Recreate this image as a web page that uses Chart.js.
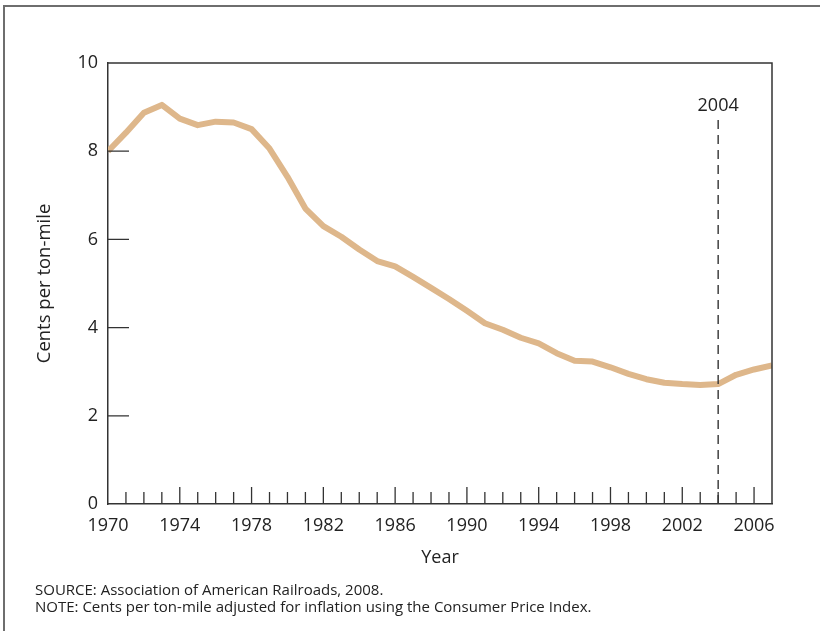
<!DOCTYPE html>
<html>
<head>
<meta charset="utf-8">
<script src="https://cdn.jsdelivr.net/npm/chart.js@4.4.1/dist/chart.umd.min.js"></script>
<style>
  html, body { margin: 0; padding: 0; background: #fff; }
  #wrap { width: 820px; height: 631px; position: relative; }
</style>
</head>
<body>
<div id="wrap"><canvas id="rateChart" width="820" height="631"></canvas></div>
<script>
// Rail revenue, cents per ton-mile (inflation adjusted)
const years = [1970, 1971, 1972, 1973, 1974, 1975, 1976, 1977, 1978, 1979,
  1980, 1981, 1982, 1983, 1984, 1985, 1986, 1987, 1988, 1989,
  1990, 1991, 1992, 1993, 1994, 1995, 1996, 1997, 1998, 1999,
  2000, 2001, 2002, 2003, 2004, 2005, 2006, 2007];
const centsPerTonMile = [8.0, 8.42, 8.87, 9.05, 8.74, 8.59, 8.67, 8.65, 8.5, 8.06,
  7.42, 6.7, 6.3, 6.06, 5.77, 5.51, 5.39, 5.15, 4.9, 4.65,
  4.38, 4.1, 3.95, 3.77, 3.64, 3.42, 3.25, 3.23, 3.1, 2.95,
  2.83, 2.75, 2.72, 2.7, 2.72, 2.93, 3.05, 3.14];
const labelledYears = [1970, 1974, 1978, 1982, 1986, 1990, 1994, 1998, 2002, 2006];
const yTicks = [0, 2, 4, 6, 8, 10];
const markerYear = 2004;
const notes = [
  'SOURCE: Association of American Railroads, 2008.',
  'NOTE: Cents per ton-mile adjusted for inflation using the Consumer Price Index.'
];

const FONT = '"Open Sans", "Noto Sans", sans-serif';
const AXIS = '#333';

// frame, box, inside tick marks, 2004 marker and the notes
const extras = {
  id: 'extras',
  afterDraw(chart) {
    const ctx = chart.ctx;
    const a = chart.chartArea;
    const xs = chart.scales.x;
    const ys = chart.scales.y;
    ctx.save();

    // outer frame (runs off the right and bottom edge)
    ctx.strokeStyle = '#6e6e6e';
    ctx.lineWidth = 2;
    ctx.beginPath();
    ctx.moveTo(4, 631);
    ctx.lineTo(4, 6);
    ctx.lineTo(820, 6);
    ctx.stroke();

    // top and right side of plot box
    ctx.strokeStyle = AXIS;
    ctx.lineWidth = 1.5;
    ctx.beginPath();
    ctx.moveTo(a.left, a.top);
    ctx.lineTo(a.right, a.top);
    ctx.lineTo(a.right, a.bottom);
    ctx.stroke();

    // year ticks pointing up
    ctx.lineWidth = 1.3;
    ctx.beginPath();
    years.forEach(yr => {
      if (yr === years[0] || yr === years[years.length - 1]) return;
      const x = xs.getPixelForValue(yr);
      const len = labelledYears.includes(yr) ? 17 : 12;
      ctx.moveTo(x, a.bottom);
      ctx.lineTo(x, a.bottom - len);
    });
    // value ticks pointing right
    yTicks.forEach(v => {
      if (v === 0 || v === 10) return;
      const y = ys.getPixelForValue(v);
      ctx.moveTo(a.left, y);
      ctx.lineTo(a.left + 21, y);
    });
    ctx.stroke();

    // 2004 marker
    const mx = xs.getPixelForValue(markerYear);
    ctx.setLineDash([9, 6]);
    ctx.lineWidth = 1.4;
    ctx.beginPath();
    ctx.moveTo(mx, 120);
    ctx.lineTo(mx, a.bottom);
    ctx.stroke();
    ctx.setLineDash([]);
    ctx.fillStyle = '#222';
    ctx.font = '18px ' + FONT;
    ctx.textAlign = 'center';
    ctx.textBaseline = 'alphabetic';
    ctx.fillText(String(markerYear), mx, 111);

    // notes
    ctx.font = '15px ' + FONT;
    ctx.textAlign = 'left';
    notes.forEach((t, i) => ctx.fillText(t, 35, 595 + i * 17));
    ctx.restore();
  }
};

new Chart(document.getElementById('rateChart'), {
  type: 'line',
  data: {
    datasets: [{
      data: years.map((yr, i) => ({ x: yr, y: centsPerTonMile[i] })),
      borderColor: '#deb78b',
      borderWidth: 6,
      pointRadius: 0,
      tension: 0,
      borderJoinStyle: 'round'
    }]
  },
  options: {
    responsive: false,
    animation: false,
    layout: { padding: { left: 30, top: 63, right: 48, bottom: 58 } },
    plugins: { legend: { display: false }, tooltip: { enabled: false } },
    scales: {
      x: {
        type: 'linear',
        min: 1970,
        max: 2007,
        afterFit: s => { s.height = 69; },
        afterBuildTicks: s => { s.ticks = years.map(v => ({ value: v })); },
        grid: { display: false, drawTicks: false },
        border: { display: true, color: AXIS, width: 1.5 },
        ticks: {
          autoSkip: false,
          maxRotation: 0,
          padding: 11,
          color: '#222',
          font: { family: FONT, size: 18 },
          callback: v => labelledYears.includes(v) ? String(v) : ''
        },
        title: {
          display: true,
          text: 'Year',
          color: '#222',
          font: { family: FONT, size: 18 },
          padding: { top: 0, bottom: 4 }
        }
      },
      y: {
        min: 0,
        max: 10,
        afterFit: s => { s.width = 78; },
        afterBuildTicks: s => { s.ticks = yTicks.map(v => ({ value: v })); },
        grid: { display: false, drawTicks: false },
        border: { display: true, color: AXIS, width: 1.5 },
        ticks: {
          padding: 10,
          color: '#222',
          font: { family: FONT, size: 18 }
        },
        title: {
          display: true,
          text: 'Cents per ton-mile',
          color: '#222',
          font: { family: FONT, size: 18.5 },
          padding: { top: 4, bottom: 0 }
        }
      }
    }
  },
  plugins: [extras]
});
</script>
</body>
</html>
